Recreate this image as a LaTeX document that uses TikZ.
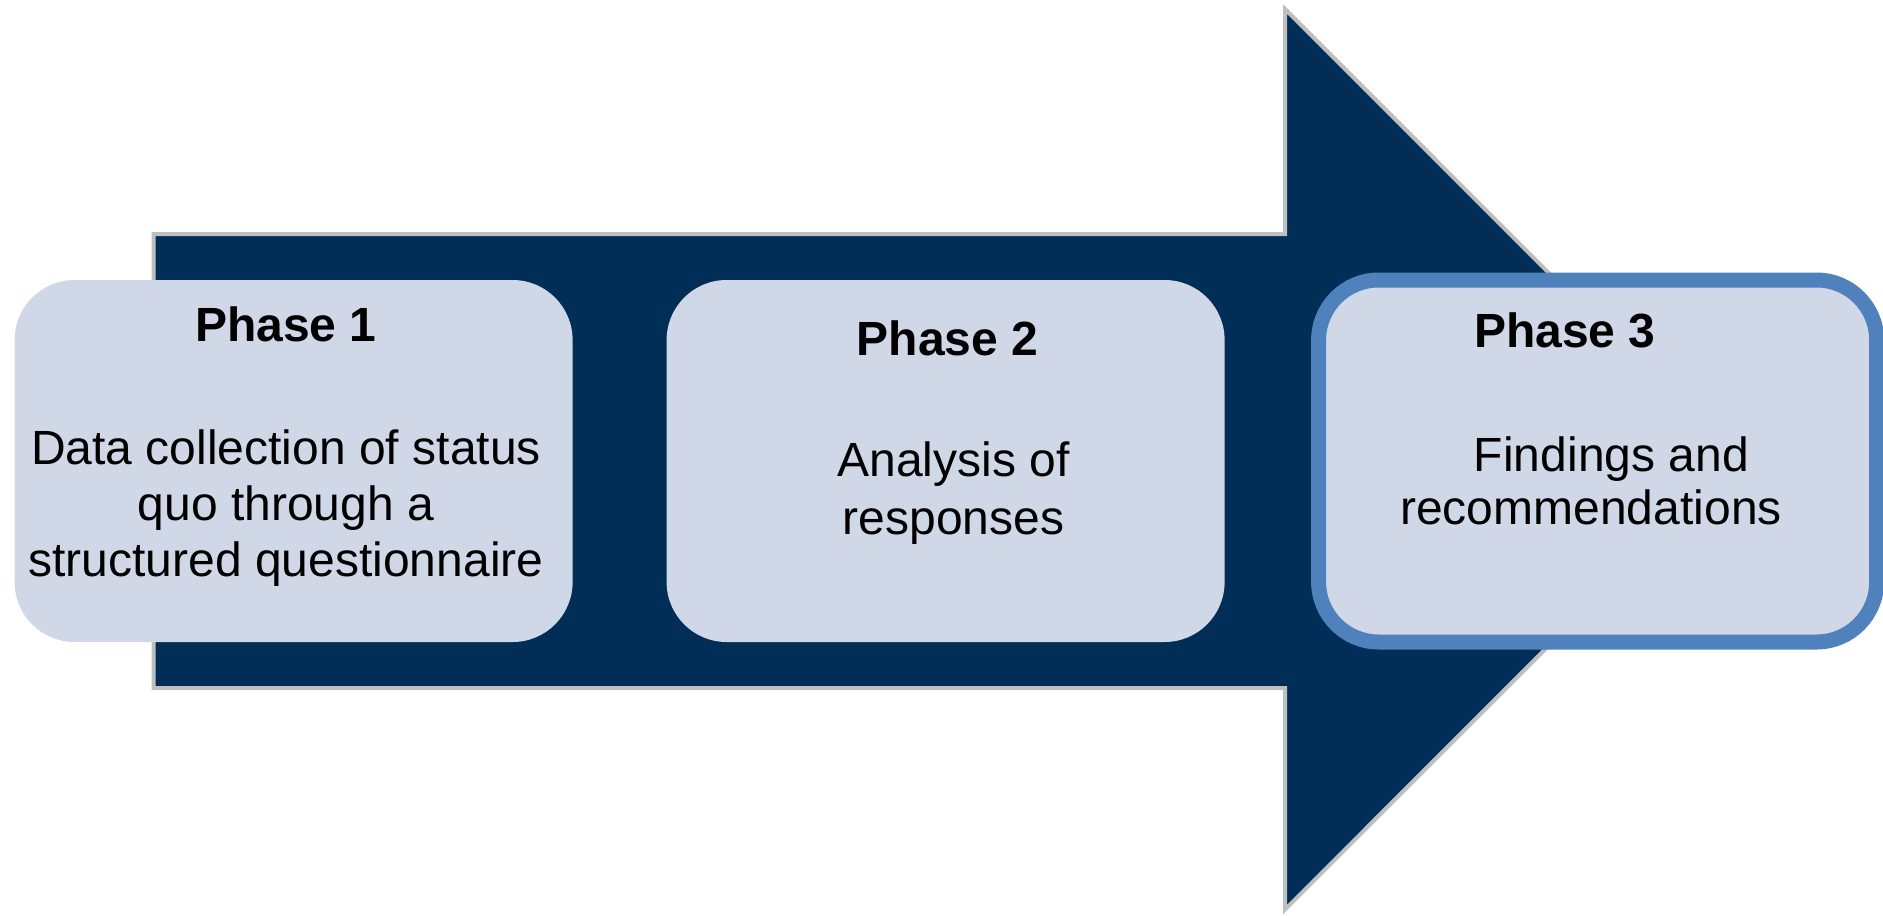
\documentclass[tikz,border=0pt]{standalone}
\usepackage{fontspec}
\setmainfont{Liberation Sans}
\usepackage{tikz}
\definecolor{navy}{RGB}{0,46,86}
\definecolor{arrowedge}{RGB}{191,191,191}
\definecolor{boxfill}{RGB}{208,216,232}
\definecolor{boxedge}{RGB}{79,129,189}

\begin{document}
\begin{tikzpicture}[x=0.5pt,y=-0.5pt,node distance=326pt,
                    every node/.style={font=\fontsize{24pt}{28pt}\selectfont}]
\tikzset{phase/.style={rounded corners=30pt,fill=boxfill,minimum width=279pt,minimum height=181pt,inner sep=0pt}}
\tikzset{title/.style={font=\fontsize{24pt}{28pt}\selectfont\bfseries}}
\tikzset{body/.style={align=center}}

\useasboundingbox (0,0) rectangle (1883,915);

% the big arrow behind the phases
\draw[fill=navy,draw=arrowedge,line width=2pt] (153.7,234.2) -- (1285,234.2) -- (1285,9)
     -- (1735,459.3) -- (1285,909.6) -- (1285,688.1) -- (153.7,688.1) -- cycle;

        \node[phase]                                    (p1) at (293.6,461) {};
        \node[phase]                                    (p2) [right of=p1] {};
        \node[phase,draw=boxedge,line width=7.5pt]      (p3) [right of=p2] {};

        \node[title]   (t1) at (285.8,324.2) {Phase 1};
        \node[title]   (t2) at (947.5,338.7) {Phase 2};
        \node[title]   (t3) at (1564.8,330.2) {Phase 3};

        \node[body]    (b1) at (286,508) {Data collection of status\\quo through a\\structured questionnaire};
        \node[body,font=\fontsize{24pt}{29pt}\selectfont]
                       (b2) at (953.5,493) {Analysis of\\responses};
        \node[body,font=\fontsize{24pt}{26.5pt}\selectfont]
                       (b3) at (1591,480.4) {\hspace*{0.85em}Findings and\\recommendations};

\end{tikzpicture}
\end{document}
